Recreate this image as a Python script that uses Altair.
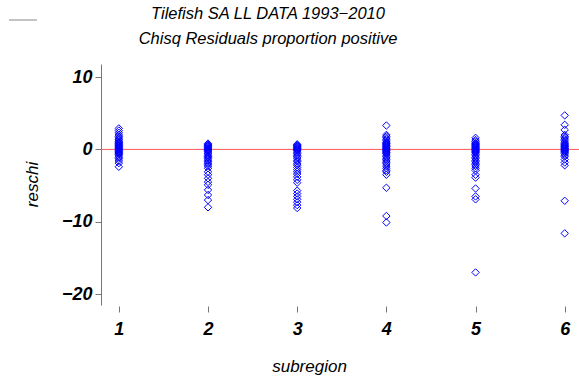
import altair as alt
import pandas as pd

title_lines = ["Tilefish SA LL DATA 1993\u22122010", "Chisq Residuals proportion positive"]
subregions = [1, 2, 3, 4, 5, 6]
s1 = [2.9, 2.6, 2.3, 2.0, 1.8, 1.6, 1.4, 1.3, 1.1, 1.0, 0.9, 0.8, 0.7, 0.6, 0.5, 0.4, 0.3, 0.2, 0.1, 0.0,
      -0.1, -0.2, -0.3, -0.4, -0.5, -0.6, -0.7, -0.9, -1.1, -1.3, -1.6, -1.9, -2.4]
s2 = [0.8, 0.7, 0.6, 0.5, 0.4, 0.3, 0.2, 0.1, 0.0, -0.1, -0.2, -0.3, -0.5, -0.6, -0.8, -1.0, -1.1, -1.3,
      -1.5, -1.7, -1.9, -2.1, -2.3, -2.6, -3.1, -3.5, -4.0, -4.5, -4.9, -5.6, -6.3, -7.0, -8.0]
s3 = [0.7, 0.6, 0.5, 0.4, 0.3, 0.2, 0.1, 0.0, -0.1, -0.2, -0.4, -0.6, -0.8, -1.0, -1.2, -1.5, -1.7, -2.0,
      -2.2, -2.5, -2.8, -3.1, -3.4, -3.8, -4.2, -4.6, -5.7, -6.1, -6.5, -6.9, -7.3, -7.7, -8.1]
s4 = [3.3, 2.0, 1.8, 1.6, 1.4, 1.2, 1.0, 0.9, 0.8, 0.7, 0.6, 0.5, 0.4, 0.3, 0.2, 0.1, 0.0, -0.1, -0.2,
      -0.3, -0.4, -0.5, -0.6, -0.8, -1.0, -1.2, -1.4, -1.6, -1.8, -2.0, -2.3, -2.6, -2.9, -3.1, -3.5,
      -5.3, -9.2, -10.1]
s5 = [1.6, 1.3, 1.1, 0.9, 0.8, 0.7, 0.6, 0.5, 0.4, 0.3, 0.2, 0.1, 0.0, -0.1, -0.2, -0.3, -0.4, -0.5,
      -0.7, -0.9, -1.1, -1.3, -1.5, -1.7, -1.9, -2.1, -2.3, -2.6, -2.9, -3.5, -3.9, -5.4, -6.5, -6.9, -17.0]
s6 = [4.7, 3.4, 2.7, 2.0, 1.8, 1.6, 1.4, 1.2, 1.0, 0.8, 0.7, 0.6, 0.5, 0.4, 0.3, 0.2, 0.1, 0.0, -0.1,
      -0.2, -0.3, -0.4, -0.6, -0.8, -1.0, -1.4, -1.8, -2.2, -7.1, -11.6]
y_ticks = [-20, -10, 0, 10]

rows = []
for sr, vals in zip(subregions, [s1, s2, s3, s4, s5, s6]):
    for v in vals:
        rows.append({"subregion": sr, "reschi": v})
df = pd.DataFrame(rows)

FONT = "Liberation Sans"

xscale = alt.Scale(domain=[0.8, 6.16], nice=False, zero=False)
yscale = alt.Scale(domain=[-21.5, 11.8], nice=False, zero=False)

points = alt.Chart(df).mark_point(
    shape="diamond", filled=False, color="#0000ff", size=55, strokeWidth=1, opacity=1
).encode(
    x=alt.X("subregion:Q", scale=xscale,
            axis=alt.Axis(values=subregions, domain=False, grid=False, tickSize=6, offset=1,
                          tickColor="#777777", labelFont=FONT, labelFontSize=18,
                          labelFontWeight="bold", labelFontStyle="italic", labelColor="black",
                          labelPadding=8, title="subregion", titleFont=FONT, titleFontSize=17,
                          titleFontStyle="italic", titleFontWeight="normal", titleColor="black",
                          titleX=208, titleY=60, titleAlign="center", titleBaseline="middle")),
    y=alt.Y("reschi:Q", scale=yscale,
            axis=alt.Axis(values=y_ticks, grid=False, tickSize=6, domainColor="#777777",
                          tickColor="#777777", labelFont=FONT, labelFontSize=18,
                          labelFontWeight="bold", labelFontStyle="italic", labelColor="black",
                          labelPadding=3, title="reschi", titleFont=FONT, titleFontSize=17,
                          titleFontStyle="italic", titleFontWeight="normal", titleColor="black",
                          titleX=-69, titleY=120, titleAngle=-90, titleAlign="center",
                          titleBaseline="middle")),
)

zero_line = alt.Chart(pd.DataFrame({"y": [0]})).mark_rule(color="#ff5555", strokeWidth=1).encode(
    y=alt.Y("y:Q", scale=yscale)
)

deco = alt.Chart(pd.DataFrame({"a": [0]})).mark_rule(color="#888888", strokeWidth=1).encode(
    x=alt.value(-92), x2=alt.value(-64), y=alt.value(-44)
)

chart = alt.layer(zero_line, points, deco).properties(
    width=478, height=241,
    title=alt.TitleParams(text=title_lines, font=FONT, fontSize=16.5, fontStyle="italic",
                          fontWeight="normal", color="black", anchor="middle", dx=-72,
                          lineHeight=25, offset=14, dy=42),
    autosize=alt.AutoSizeParams(type="none"),
    padding={"left": 101, "top": 64, "right": 0, "bottom": 76},
).configure(background="white").configure_view(stroke=None)

chart.save("out.html", embed_options={"renderer": "svg", "actions": False})
